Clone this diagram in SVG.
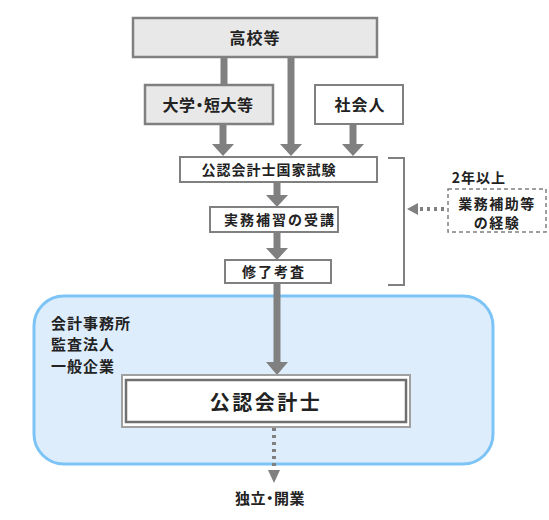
<svg xmlns="http://www.w3.org/2000/svg" width="549" height="520" viewBox="0 0 549 520">
<defs>
<style>
.t{font-family:"Noto Sans CJK JP","Noto Sans",sans-serif;font-weight:bold;fill:#222;text-anchor:middle;dominant-baseline:central}
.gbox{fill:#e8e8e8;stroke:#808080;stroke-width:2.5}
.wbox{fill:#fff;stroke:#808080;stroke-width:2}
.arr{stroke:#808080;stroke-width:7;fill:none}
.head{fill:#808080}
.dot{stroke:#808080;stroke-width:4;stroke-dasharray:3 4;fill:none}
</style>
</defs>
<rect width="549" height="520" fill="#fff"/>
<g id="company-area">
<rect x="34" y="296" width="459" height="168" rx="30" fill="#deedfc" stroke="#7cc4f5" stroke-width="3"/>
<text class="t" x="51" y="322" style="text-anchor:start;font-size:15px;letter-spacing:1px">会計事務所</text>
<text class="t" x="51" y="343" style="text-anchor:start;font-size:15px;letter-spacing:1px">監査法人</text>
<text class="t" x="51" y="365" style="text-anchor:start;font-size:15px;letter-spacing:1px">一般企業</text>
</g>
<g id="connectors">
<line class="arr" x1="224" y1="57" x2="224" y2="84"/>
<line class="arr" x1="291" y1="57" x2="291" y2="144"/>
<polygon class="head" points="280,144 302,144 291,156"/>
<line class="arr" x1="223" y1="124" x2="223" y2="144"/>
<polygon class="head" points="212,144 234,144 223,156"/>
<line class="arr" x1="353" y1="124" x2="353" y2="144"/>
<polygon class="head" points="342,144 364,144 353,156"/>
<line class="arr" x1="277" y1="182" x2="277" y2="196"/>
<polygon class="head" points="266,195 288,195 277,207"/>
<line class="arr" x1="277" y1="232" x2="277" y2="249"/>
<polygon class="head" points="266,248 288,248 277,260"/>
<line class="arr" x1="277" y1="283" x2="277" y2="363"/>
<polygon class="head" points="266,362 288,362 277,375"/>
<polyline points="388,158 404,158 404,285 388,285" fill="none" stroke="#808080" stroke-width="2"/>
<polygon class="head" points="407,209 418,203 418,215"/>
<line class="dot" x1="420" y1="209" x2="447" y2="209"/>
<line class="dot" x1="274" y1="428" x2="274" y2="470"/>
<polygon class="head" points="268,470 280,470 274,483"/>
</g>
<g id="koukou">
<rect class="gbox" x="133" y="18" width="244" height="39"/>
<text class="t" x="255" y="37" style="font-size:16px;letter-spacing:1px">高校等</text>
</g>
<g id="daigaku">
<rect class="gbox" x="145" y="85" width="128" height="39"/>
<text class="t" x="208" y="104" style="font-size:16px;font-feature-settings:'palt';letter-spacing:0.5px">大学・短大等</text>
</g>
<g id="shakaijin">
<rect class="wbox" x="315" y="85" width="88" height="39"/>
<text class="t" x="360" y="104" style="font-size:16px;letter-spacing:1px">社会人</text>
</g>
<g id="shiken">
<rect class="wbox" x="180" y="157" width="197" height="25"/>
<text class="t" x="269" y="169" style="font-size:14px;letter-spacing:1px">公認会計士国家試験</text>
</g>
<g id="hoshuu">
<rect class="wbox" x="210" y="207" width="128" height="25"/>
<text class="t" x="280" y="219" style="font-size:14px;letter-spacing:2px">実務補習の受講</text>
</g>
<g id="kousa">
<rect class="wbox" x="225" y="260" width="106" height="23"/>
<text class="t" x="274" y="271" style="font-size:14px;letter-spacing:2px">修了考査</text>
</g>
<g id="keiken">
<text class="t" x="479" y="177" style="font-size:14px;letter-spacing:1px">2年以上</text>
<rect x="448" y="189" width="98" height="43" fill="#fff" stroke="#808080" stroke-width="1.5" stroke-dasharray="4 3"/>
<text class="t" x="497" y="203" style="font-size:14px;letter-spacing:1.5px">業務補助等</text>
<text class="t" x="497" y="222" style="font-size:14px;letter-spacing:1.5px">の経験</text>
</g>
<g id="cpa">
<rect x="122" y="375" width="288" height="52" fill="#fff" stroke="#a0a0a0" stroke-width="2"/>
<rect x="126" y="380" width="280" height="42" fill="#fff" stroke="#707070" stroke-width="2.5"/>
<text class="t" x="266" y="401" style="font-size:20px;letter-spacing:2.5px">公認会計士</text>
</g>
<g id="dokuritsu">
<text class="t" x="270" y="497" style="font-size:15px;font-feature-settings:'palt';letter-spacing:0.5px">独立・開業</text>
</g>
</svg>
